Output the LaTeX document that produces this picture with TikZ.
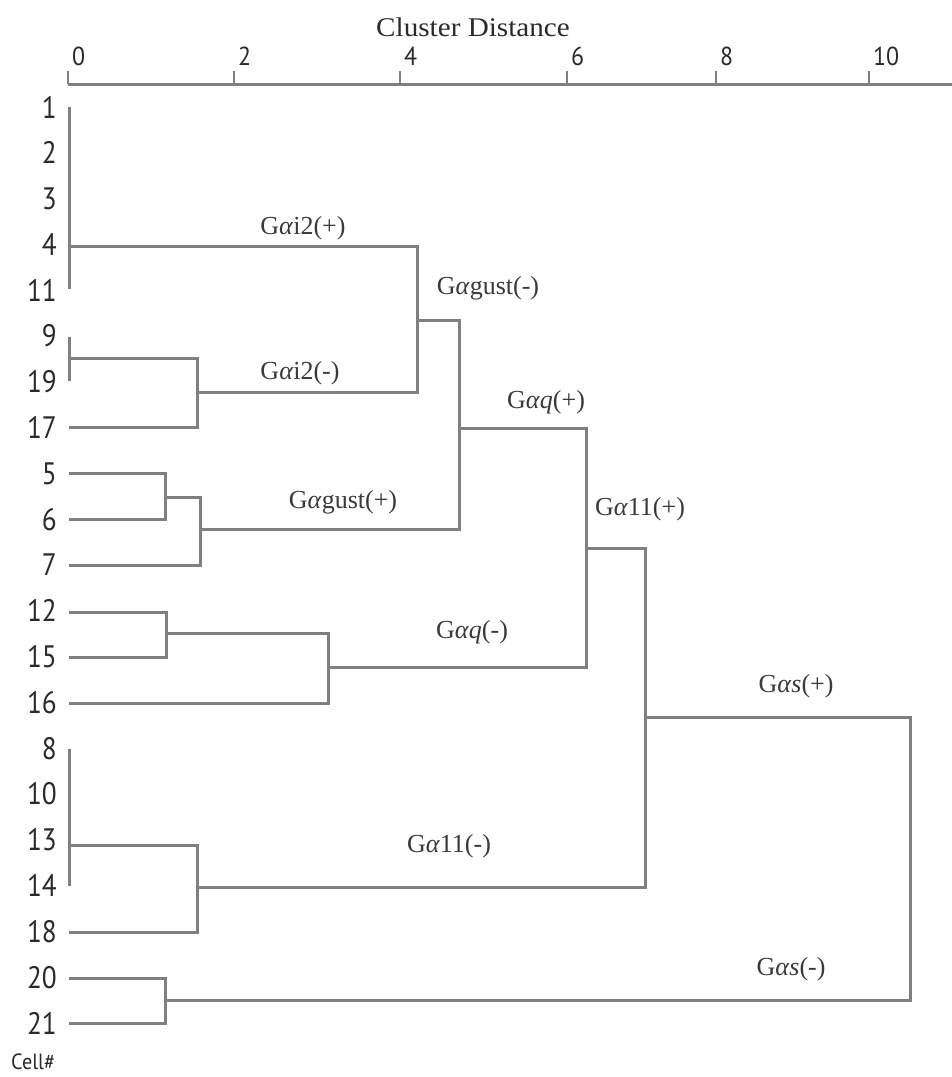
\documentclass[tikz,border=0pt]{standalone}
\usepackage{fontspec}
\setmainfont{Liberation Serif}
\newfontfamily\numfont{PT Sans}
\definecolor{linegray}{HTML}{808080}
\definecolor{txtgray}{HTML}{2A2A2A}
\definecolor{lblgray}{HTML}{3A3A3A}
\newcommand{\ga}{\textit{α}}
\begin{document}
\begin{tikzpicture}[x=1pt,y=-1pt,
  branch/.style={draw=linegray, line width=3pt, line join=miter},
  axisline/.style={draw=linegray, line width=3pt},
  tickmark/.style={draw=linegray, line width=2pt},
  leaflabel/.style={anchor=east, inner sep=0pt, text=txtgray, xscale=0.88, font=\numfont\fontsize{31}{31}\selectfont},
  ticklabel/.style={anchor=base west, inner sep=0pt, text=txtgray, xscale=0.92, font=\numfont\fontsize{26}{26}\selectfont},
  grouplabel/.style={anchor=base, inner sep=0pt, text=lblgray, font=\fontsize{26}{26}\selectfont}]
\useasboundingbox[fill=white] (0,0) rectangle (952,1077);

% ---- axis ----
\node[anchor=base, inner sep=0pt, text=txtgray, font=\fontsize{27}{27}\selectfont, xscale=1.08] (title) at (473,36) {Cluster Distance};
\coordinate (ax0) at (68,84);
\coordinate (axE) at (952,84);
\draw[axisline] (ax0) -- (axE);
\foreach \xx/\lab/\nm in {68/0/t0,234/2/t2,400/4/t4,567/6/t6,716/8/t8,869/10/t10}{
  \coordinate (\nm b) at (\xx,84);
  \coordinate (\nm a) at (\xx,71);
  \draw[tickmark] (\nm a) -- (\nm b);
  \node[ticklabel] (\nm l) at (\xx+4,65) {\lab};
}

% ---- leaf labels ----
\foreach \lab [count=\i from 0] in {1,2,3,4,11,9,19,17,5,6,7,12,15,16,8,10,13,14,18,20,21}{
  \node[leaflabel] (leaf\lab) at (57,{107+45.8*\i}) {\lab};
}
\node[anchor=base west, inner sep=0pt, text=txtgray, xscale=0.92, font=\numfont\fontsize{22}{22}\selectfont] (cell) at (11,1069) {Cell\#};

% ---- coordinates ----
\coordinate (g1t) at (69,107);  \coordinate (g1b) at (69,289);
\coordinate (s4) at (69,246);   \coordinate (i2pR) at (417,246);
\coordinate (i2mR) at (417,392); \coordinate (i2mL) at (197,392);
\coordinate (g9t) at (69,337);  \coordinate (g9b) at (69,381);
\coordinate (s919) at (69,358); \coordinate (c919) at (197,358);
\coordinate (c17) at (197,427); \coordinate (s17) at (69,427);
\coordinate (ggmL) at (417,320); \coordinate (ggmR) at (459,320);
\coordinate (ggpR) at (459,529); \coordinate (ggpL) at (200,529);
\coordinate (s5) at (69,473);   \coordinate (c5) at (165,473);
\coordinate (c6) at (165,519);  \coordinate (s6) at (69,519);
\coordinate (j56) at (165,497); \coordinate (c56) at (200,497);
\coordinate (c7) at (200,565);  \coordinate (s7) at (69,565);
\coordinate (gqpL) at (459,428); \coordinate (gqpR) at (586,428);
\coordinate (gqmR) at (586,667); \coordinate (gqmL) at (328,667);
\coordinate (s12) at (69,612);  \coordinate (c12) at (166,612);
\coordinate (c15) at (166,657); \coordinate (s15) at (69,657);
\coordinate (j1215) at (166,633); \coordinate (c1215) at (328,633);
\coordinate (c16) at (328,703); \coordinate (s16) at (69,703);
\coordinate (g11pL) at (586,548); \coordinate (g11pR) at (645,548);
\coordinate (g11mR) at (645,887); \coordinate (g11mL) at (197,887);
\coordinate (g8t) at (69,749);  \coordinate (g8b) at (69,886);
\coordinate (s13) at (69,845);  \coordinate (c13) at (197,845);
\coordinate (c18) at (197,932); \coordinate (s18) at (69,932);
\coordinate (gspL) at (645,717); \coordinate (gspR) at (910,717);
\coordinate (gsmR) at (910,1000); \coordinate (gsmL) at (165,1000);
\coordinate (s20) at (69,978);  \coordinate (c20) at (165,978);
\coordinate (c21) at (165,1023); \coordinate (s21) at (69,1023);

% ---- branches ----
\draw[branch] (g1t) -- (g1b);
\draw[branch] (s4) -- (i2pR) -- (i2mR) -- (i2mL);
\draw[branch] (g9t) -- (g9b);
\draw[branch] (s919) -- (c919) -- (c17) -- (s17);
\draw[branch] (ggmL) -- (ggmR) -- (ggpR) -- (ggpL);
\draw[branch] (s5) -- (c5) -- (c6) -- (s6);
\draw[branch] (j56) -- (c56) -- (c7) -- (s7);
\draw[branch] (gqpL) -- (gqpR) -- (gqmR) -- (gqmL);
\draw[branch] (s12) -- (c12) -- (c15) -- (s15);
\draw[branch] (j1215) -- (c1215) -- (c16) -- (s16);
\draw[branch] (g11pL) -- (g11pR) -- (g11mR) -- (g11mL);
\draw[branch] (g8t) -- (g8b);
\draw[branch] (s13) -- (c13) -- (c18) -- (s18);
\draw[branch] (gspL) -- (gspR) -- (gsmR) -- (gsmL);
\draw[branch] (s20) -- (c20) -- (c21) -- (s21);

% ---- cluster labels ----
\node[grouplabel] (lb1) at (303,234) {G\ga i2(+)};
\node[grouplabel] (lb2) at (488,294) {G\ga gust(-)};
\node[grouplabel] (lb3) at (300,379) {G\ga i2(-)};
\node[grouplabel] (lb4) at (546,408) {G\ga\textit{q}(+)};
\node[grouplabel] (lb5) at (640,515) {G\ga 11(+)};
\node[grouplabel] (lb6) at (343,508) {G\ga gust(+)};
\node[grouplabel] (lb7) at (472,638) {G\ga\textit{q}(-)};
\node[grouplabel] (lb8) at (796,692) {G\ga\textit{s}(+)};
\node[grouplabel] (lb9) at (449,852) {G\ga 11(-)};
\node[grouplabel] (lb10) at (791,975) {G\ga\textit{s}(-)};
\end{tikzpicture}
\end{document}
